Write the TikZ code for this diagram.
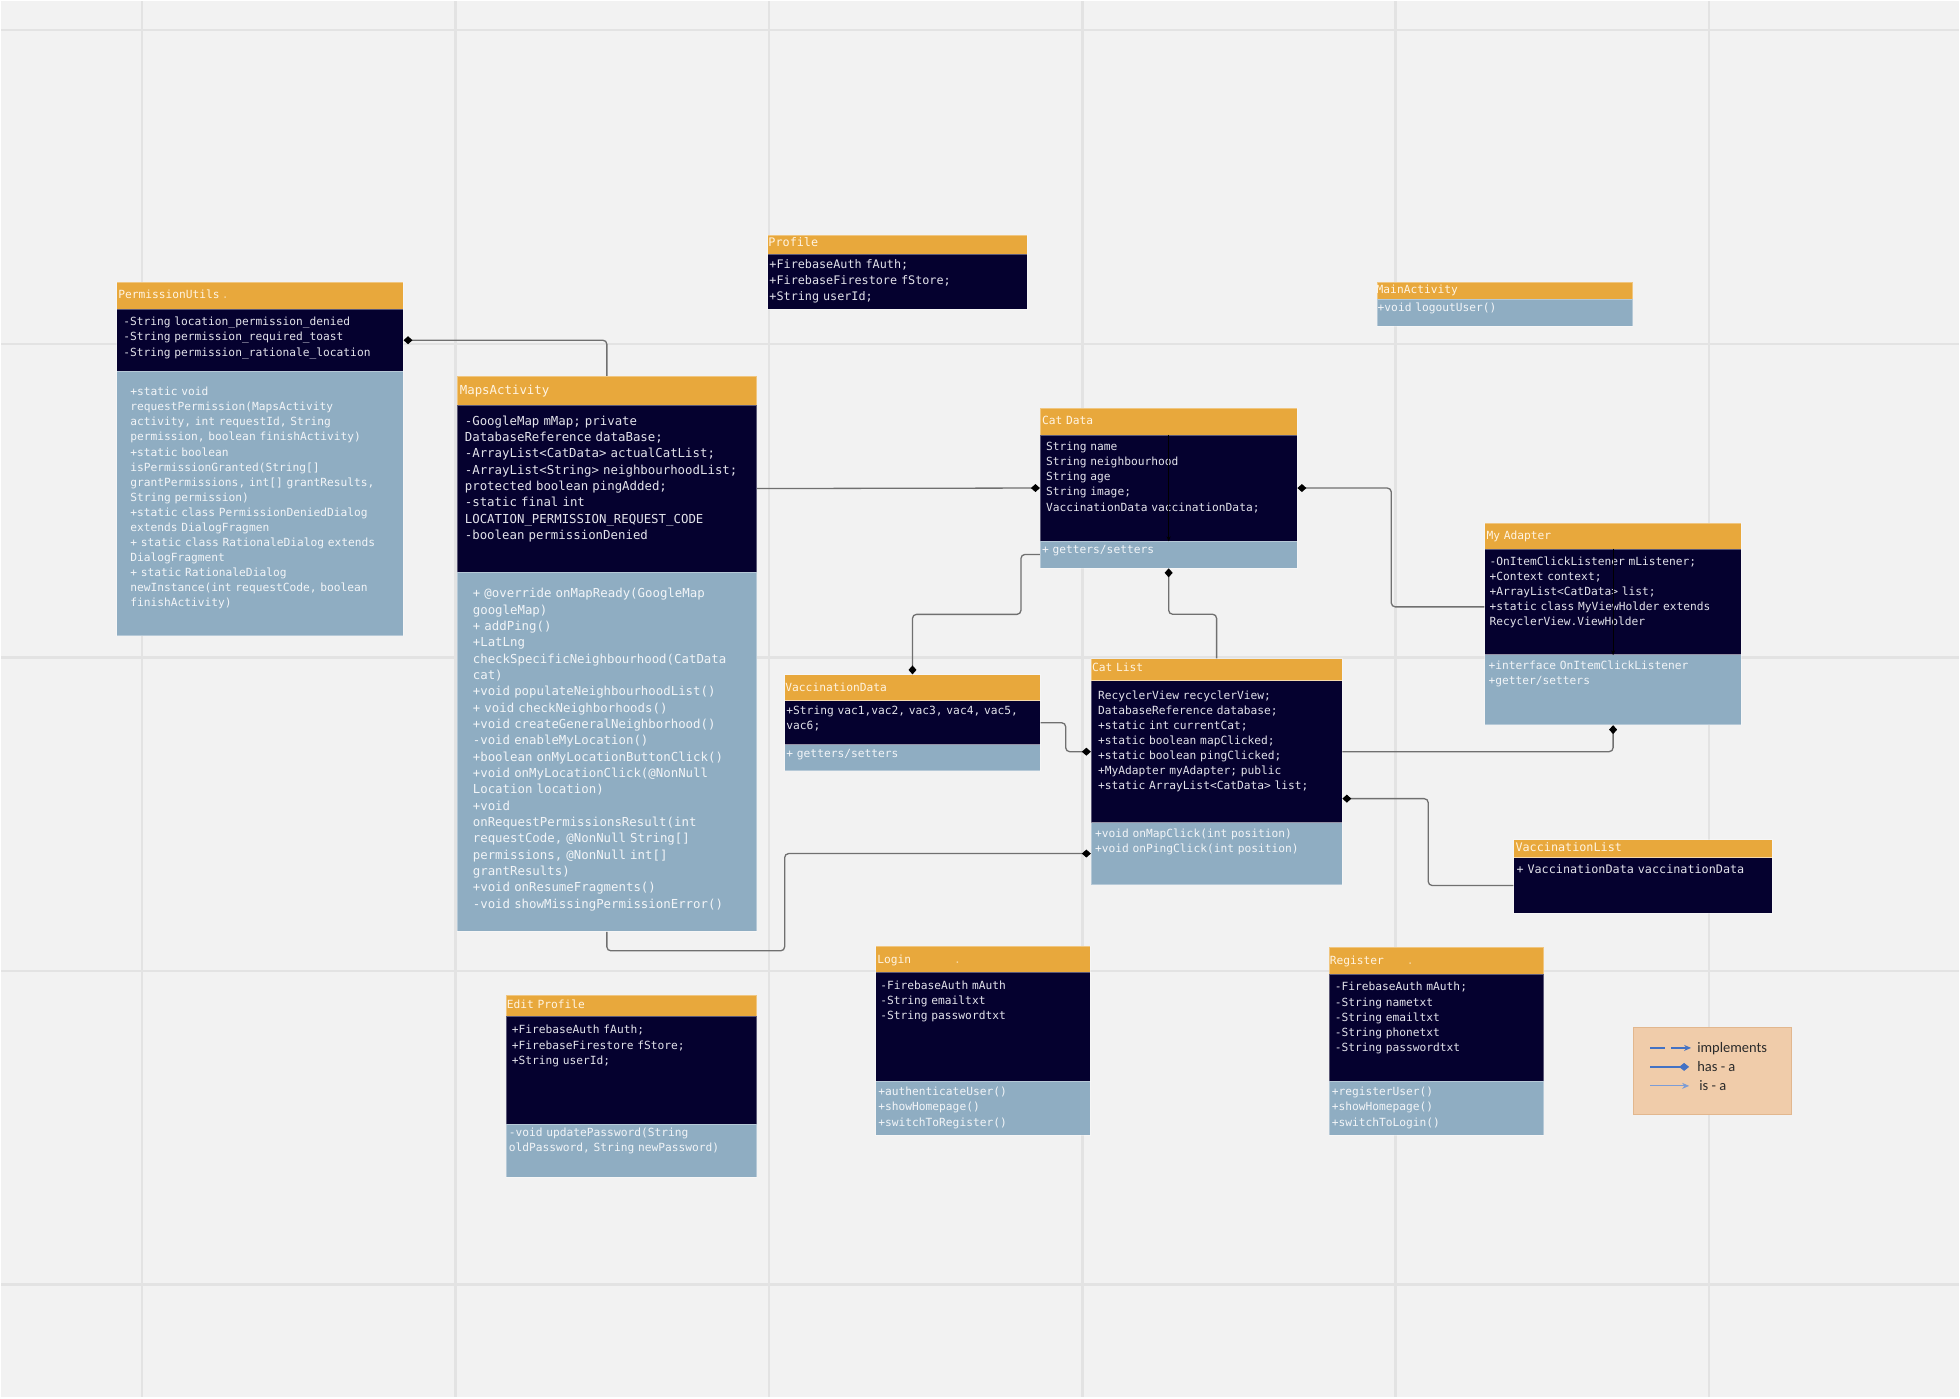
\documentclass[tikz,border=0pt]{standalone}
\usepackage{fontspec}
\usetikzlibrary{arrows.meta}
\newfontfamily\codefont{DejaVu Sans Mono}
\newfontfamily\legendfont{Carlito}

\definecolor{bggray}{HTML}{F2F2F2}
\definecolor{gridgray}{HTML}{E3E3E3}
\definecolor{hdrorange}{HTML}{E8A83C}
\definecolor{attrnavy}{HTML}{05012F}
\definecolor{methblue}{HTML}{8FADC2}
\definecolor{hdrtext}{HTML}{FFF4E2}
\definecolor{attrtext}{HTML}{E2E2EA}
\definecolor{methtext}{HTML}{F2F5F8}
\definecolor{conngray}{HTML}{707070}
\definecolor{legendpeach}{HTML}{F0CCAA}
\definecolor{legendedge}{HTML}{E2B78E}
\definecolor{legendblue}{HTML}{4472C4}
\definecolor{legendtext}{HTML}{2B2B2B}

\begin{document}
\begin{tikzpicture}[x=1pt, y=-1pt,
    box/.style={anchor=north west, inner sep=0pt, draw=white, draw opacity=0.35, line width=0.8pt},
    hdrbox/.style={box, fill=hdrorange},
    attrbox/.style={box, fill=attrnavy},
    methbox/.style={box, fill=methblue},
    txt/.style={anchor=base west, inner sep=0pt, text width=12cm, align=left},
    code/.style={font=\codefont\fontsize{11.25}{15.1}\selectfont},
    codemid/.style={font=\codefont\fontsize{11.8}{15.9}\selectfont},
    codebig/.style={font=\codefont\fontsize{12.4}{16.35}\selectfont},
    hdrtxt/.style={txt, text=hdrtext},
    attrtxt/.style={txt, text=attrtext},
    methtxt/.style={txt, text=methtext},
    gridline/.style={draw=gridgray, line width=2.5pt},
    conn/.style={draw=conngray, line width=1.3pt, rounded corners=4pt},
    hasa/.style={-{Diamond[length=9pt, width=8pt, color=black]}},
    hasarev/.style={{Diamond[length=9pt, width=8pt, color=black]}-},
    inner/.style={draw=black, line width=0.6pt, -{Stealth[length=5pt, width=4pt]}},
    legtxt/.style={anchor=base west, inner sep=0pt, text=legendtext, font=\legendfont\fontsize{14.5}{17}\selectfont},
    legline/.style={draw=legendblue, line width=1.3pt},
  ]
    % Background and grid
    \fill[bggray] (0,0) rectangle (1960,1398);
    \foreach \gx in {141,454.8,768.6,1082.4,1396.2,1710}
      \draw[gridline] (\gx,0) -- (\gx,1398);
    \foreach \gy in {29,343,657,971,1285}
      \draw[gridline] (0,\gy) -- (1960,\gy);
    \useasboundingbox (0,0) rectangle (1960,1398);

    % PermissionUtils
    \node[hdrbox, minimum width=287pt, minimum height=27pt] (pu-h) at (115,281) {};
    \node[attrbox, minimum width=287pt, minimum height=62pt] (pu-a) at (115,308) {};
    \node[methbox, minimum width=287pt, minimum height=265pt] (pu-m) at (115,370) {};
    \node[hdrtxt, code] (pu-ht) at (117,298) {PermissionUtils\hspace{2pt}\textcolor{hdrorange!40!hdrtext}{.}};
    \node[attrtxt, code] (pu-at) at (122,325) {-String location\_permission\_denied\\
      -String permission\_required\_toast\\
      -String permission\_rationale\_location};
    \node[methtxt, code] (pu-mt) at (129,395) {+static void\\
      requestPermission(MapsActivity\\
      activity, int requestId, String\\
      permission, boolean finishActivity)\\
      +static boolean\\
      isPermissionGranted(String[]\\
      grantPermissions, int[] grantResults,\\
      String permission)\\
      +static class PermissionDeniedDialog\\
      extends DialogFragmen\\
      + static class RationaleDialog extends\\
      DialogFragment\\
      + static RationaleDialog\\
      newInstance(int requestCode, boolean\\
      finishActivity)};

    % MapsActivity
    \node[hdrbox, minimum width=300pt, minimum height=29pt] (ma-h) at (456,375) {};
    \node[attrbox, minimum width=300pt, minimum height=167pt] (ma-a) at (456,404) {};
    \node[methbox, minimum width=300pt, minimum height=360pt] (ma-m) at (456,571) {};
    \node[hdrtxt, codebig] (ma-ht) at (459,393.5) {MapsActivity};
    \node[attrtxt, codebig] (ma-at) at (464,424.5) {-GoogleMap mMap; private\\
      DatabaseReference dataBase;\\
      -ArrayList<CatData> actualCatList;\\
      -ArrayList<String> neighbourhoodList;\\
      protected boolean pingAdded;\\
      -static final int\\
      LOCATION\_PERMISSION\_REQUEST\_CODE\\
      -boolean permissionDenied};
    \node[methtxt, codebig] (ma-mt) at (472,597.5) {+ @override onMapReady(GoogleMap\\
      googleMap)\\
      + addPing()\\
      +LatLng\\
      checkSpecificNeighbourhood(CatData\\
      cat)\\
      +void populateNeighbourhoodList()\\
      + void checkNeighborhoods()\\
      +void createGeneralNeighborhood()\\
      -void enableMyLocation()\\
      +boolean onMyLocationButtonClick()\\
      +void onMyLocationClick(@NonNull\\
      Location location)\\
      +void\\
      onRequestPermissionsResult(int\\
      requestCode, @NonNull String[]\\
      permissions, @NonNull int[]\\
      grantResults)\\
      +void onResumeFragments()\\
      -void showMissingPermissionError()};

    % Profile
    \node[hdrbox, minimum width=260pt, minimum height=19pt] (pr-h) at (767,234) {};
    \node[attrbox, minimum width=260pt, minimum height=55pt] (pr-a) at (767,253) {};
    \node[hdrtxt, codemid] (pr-ht) at (768,246) {Profile};
    \node[attrtxt, codemid] (pr-at) at (769,268) {+FirebaseAuth fAuth;\\
      +FirebaseFirestore fStore;\\
      +String userId;};

    % MainActivity
    \node[hdrbox, minimum width=256pt, minimum height=17pt] (mn-h) at (1377,281) {};
    \node[methbox, minimum width=256pt, minimum height=27pt] (mn-m) at (1377,298) {};
    \node[hdrtxt, code] (mn-ht) at (1377,293) {MainActivity};
    \node[methtxt, code] (mn-mt) at (1378,311) {+void logoutUser()};

    % Cat Data
    \node[hdrbox, minimum width=257pt, minimum height=27pt] (cd-h) at (1040,407) {};
    \node[attrbox, minimum width=257pt, minimum height=106pt] (cd-a) at (1040,434) {};
    \node[methbox, minimum width=257pt, minimum height=27pt] (cd-m) at (1040,540) {};
    \node[hdrtxt, code] (cd-ht) at (1042,424) {Cat Data};
    \node[attrtxt, code] (cd-at) at (1046,450) {String name\\
      String neighbourhood\\
      String age\\
      String image;\\
      VaccinationData vaccinationData;};
    \node[methtxt, code] (cd-mt) at (1042,553) {+ getters/setters};
    \draw[inner] (cd-a.north) -- (cd-a.south);

    % My Adapter
    \node[hdrbox, minimum width=257pt, minimum height=26pt] (ad-h) at (1485,522) {};
    \node[attrbox, minimum width=257pt, minimum height=106pt] (ad-a) at (1485,548) {};
    \node[methbox, minimum width=257pt, minimum height=70pt] (ad-m) at (1485,654) {};
    \node[hdrtxt, code] (ad-ht) at (1487,539) {My Adapter};
    \node[attrtxt, code] (ad-at) at (1490,565) {-OnItemClickListener mListener;\\
      +Context context;\\
      +ArrayList<CatData> list;\\
      +static class MyViewHolder extends\\
      RecyclerView.ViewHolder};
    \node[methtxt, code] (ad-mt) at (1489,669) {+interface OnItemClickListener\\
      +getter/setters};
    \draw[inner] (ad-a.north) -- (ad-a.south);

    % VaccinationData
    \node[hdrbox, minimum width=256pt, minimum height=26pt] (vd-h) at (784,674) {};
    \node[attrbox, minimum width=256pt, minimum height=44pt] (vd-a) at (784,700) {};
    \node[methbox, minimum width=256pt, minimum height=26pt] (vd-m) at (784,744) {};
    \node[hdrtxt, code] (vd-ht) at (785,691) {VaccinationData};
    \node[attrtxt, code] (vd-at) at (786,714) {+String vac1,vac2, vac3, vac4, vac5,\\
      vac6;};
    \node[methtxt, code] (vd-mt) at (786,757) {+ getters/setters};

    % Cat List
    \node[hdrbox, minimum width=251pt, minimum height=22pt] (cl-h) at (1091,658) {};
    \node[attrbox, minimum width=251pt, minimum height=142pt] (cl-a) at (1091,680) {};
    \node[methbox, minimum width=251pt, minimum height=62pt] (cl-m) at (1091,822) {};
    \node[hdrtxt, code] (cl-ht) at (1092,671) {Cat List};
    \node[attrtxt, code] (cl-at) at (1098,699) {RecyclerView recyclerView;\\
      DatabaseReference database;\\
      +static int currentCat;\\
      +static boolean mapClicked;\\
      +static boolean pingClicked;\\
      +MyAdapter myAdapter; public\\
      +static ArrayList<CatData> list;};
    \node[methtxt, code] (cl-mt) at (1095,837) {+void onMapClick(int position)\\
      +void onPingClick(int position)};

    % VaccinationList
    \node[hdrbox, minimum width=259pt, minimum height=18pt] (vl-h) at (1514,839) {};
    \node[attrbox, minimum width=259pt, minimum height=56pt] (vl-a) at (1514,857) {};
    \node[hdrtxt, codemid] (vl-ht) at (1516,851) {VaccinationList};
    \node[attrtxt, codemid] (vl-at) at (1517,873) {+ VaccinationData vaccinationData};

    % Login
    \node[hdrbox, minimum width=215pt, minimum height=26pt] (lg-h) at (875,946) {};
    \node[attrbox, minimum width=215pt, minimum height=109pt] (lg-a) at (875,972) {};
    \node[methbox, minimum width=215pt, minimum height=54pt] (lg-m) at (875,1081) {};
    \node[hdrtxt, code] (lg-ht) at (877,963) {Login\hspace{43pt}\textcolor{hdrorange!40!hdrtext}{.}};
    \node[attrtxt, code] (lg-at) at (880,989) {-FirebaseAuth mAuth\\
      -String emailtxt\\
      -String passwordtxt};
    \node[methtxt, code] (lg-mt) at (878,1096) {+authenticateUser()\\
      +showHomepage()\\
      +switchToRegister()};

    % Edit Profile
    \node[hdrbox, minimum width=251pt, minimum height=21pt] (ep-h) at (505,995) {};
    \node[attrbox, minimum width=251pt, minimum height=108pt] (ep-a) at (505,1016) {};
    \node[methbox, minimum width=251pt, minimum height=53pt] (ep-m) at (505,1124) {};
    \node[hdrtxt, code] (ep-ht) at (506,1009) {Edit Profile};
    \node[attrtxt, code] (ep-at) at (511,1034) {+FirebaseAuth fAuth;\\
      +FirebaseFirestore fStore;\\
      +String userId;};
    \node[methtxt, code] (ep-mt) at (508,1137) {-void updatePassword(String\\
      oldPassword, String newPassword)};

    % Register
    \node[hdrbox, minimum width=215pt, minimum height=27pt] (rg-h) at (1329,947) {};
    \node[attrbox, minimum width=215pt, minimum height=107pt] (rg-a) at (1329,974) {};
    \node[methbox, minimum width=215pt, minimum height=54pt] (rg-m) at (1329,1081) {};
    \node[hdrtxt, code] (rg-ht) at (1330,964) {Register\hspace{23pt}\textcolor{hdrorange!40!hdrtext}{.}};
    \node[attrtxt, code] (rg-at) at (1335,991) {-FirebaseAuth mAuth;\\
      -String nametxt\\
      -String emailtxt\\
      -String phonetxt\\
      -String passwordtxt};
    \node[methtxt, code] (rg-mt) at (1332,1096) {+registerUser()\\
      +showHomepage()\\
      +switchToLogin()};

    % Associations (has - a)
    \draw[conn, hasa] (ma-h.north) |- (pu-a.east);
    \draw[conn, hasa] (ma-a.east) -- (cd-a.west);
    \draw[conn, hasarev] (cd-a.east) -- ++(94,0) |- ([yshift=-5pt]ad-a.west);
    \draw[conn, hasa] (cd-m.west) -- ++(-19,0) -- ++(0,60) -| (vd-h.north);
    \draw[conn, hasarev] (cd-m.south) -- ++(0,46) -| (cl-h.north);
    \draw[conn, hasa] (vd-a.east) -- ++(25,0) |- (cl-a.west);
    \draw[conn, hasa] (ma-m.south) -- ++(0,19) -- ++(178,0) |- (cl-m.west);
    \draw[conn, hasa] (cl-a.east) -| (ad-m.south);
    \draw[conn, hasarev] ([yshift=-47pt]cl-a.east) -- ++(86,0) |- (vl-a.west);

    % Legend
    \node[box, fill=legendpeach, draw=legendedge, draw opacity=1, minimum width=158pt, minimum height=87pt] (lgd) at (1634,1027) {};
    \node[legtxt] (lgd-impl) at (1698,1052.5) {implements};
    \node[legtxt] (lgd-has) at (1698,1071.5) {has - a};
    \node[legtxt] (lgd-isa) at (1700,1090.5) {is - a};
    \coordinate (impl-a) at (1651,1048);
    \coordinate (impl-b) at (1692,1048);
    \coordinate (has-a) at (1651,1067);
    \coordinate (has-b) at (1690,1067);
    \coordinate (isa-a) at (1651,1086);
    \coordinate (isa-b) at (1690,1086);
    \draw[legline, dash pattern=on 15pt off 6pt, -{Stealth[length=7pt, width=6pt]}] (impl-a) -- (impl-b);
    \draw[legline, line width=2pt, -{Diamond[length=10pt, width=8pt]}] (has-a) -- (has-b);
    \draw[legline, draw=legendblue!70!white, line width=0.8pt, -{Stealth[length=7pt, width=6pt]}] (isa-a) -- (isa-b);
\end{tikzpicture}
\end{document}
